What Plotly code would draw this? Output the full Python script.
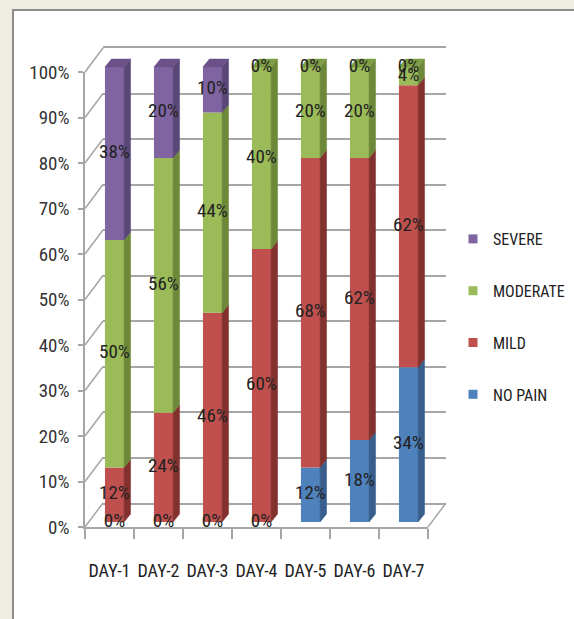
import plotly.graph_objects as go

# ---------------- data ----------------
days = ["DAY-1", "DAY-2", "DAY-3", "DAY-4", "DAY-5", "DAY-6", "DAY-7"]
no_pain = [0, 0, 0, 0, 12, 18, 34]
mild = [12, 24, 46, 60, 68, 62, 62]
moderate = [50, 56, 44, 40, 20, 20, 4]
severe = [38, 20, 10, 0, 0, 0, 0]
series_names = ["NO PAIN", "MILD", "MODERATE", "SEVERE"]
y_ticks = [i / 10 for i in range(11)]

# ---------------- styles ----------------
W, H = 574, 619
FONT = "Roboto Condensed, Noto Sans Condensed, Liberation Sans Narrow, DejaVu Sans Condensed, sans-serif"
front_col = {"NO PAIN": "#4F81BD", "MILD": "#C0504D", "MODERATE": "#9BBB59", "SEVERE": "#8064A2"}
side_col = {"NO PAIN": "#375E8C", "MILD": "#82312F", "MODERATE": "#6C8838", "SEVERE": "#5B4777"}
top_col = {"NO PAIN": "#4573A8", "MILD": "#A84442", "MODERATE": "#7E9D45", "SEVERE": "#6A5289"}
GRID = "#A6A6A6"
TXT = "#222222"


def px(x):
    return x / W


def py(y):
    return 1 - y / H


# geometry (pixels)
front = dict(x0=85, x1=428, y0=527, y1=72)      # front axis plane
back = dict(x0=103, x1=446, y0=503, y1=48)      # back wall
bar_y0, bar_unit = 522, 455                      # bar plane: 0 at 522, 1.0 -> 455 px
bar_c0, bar_c6 = 114.5, 408.5                    # centers of first / last bar
step = (bar_c6 - bar_c0) / 6
bx0, bx1 = bar_c0 - step / 2, bar_c6 + step / 2
yr_top = 1.03
bar_top_px = bar_y0 - yr_top * bar_unit
BW = 0.39                 # bar width (category units)
DX = 6.5 / step           # depth offsets in data units
DY = 8 / bar_unit

data = {"NO PAIN": no_pain, "MILD": mild, "MODERATE": moderate, "SEVERE": severe}

fig = go.Figure()

# ---- back wall subplot (x, y) : grid only
fig.add_trace(go.Scatter(x=[0], y=[None], xaxis="x", yaxis="y", showlegend=False, hoverinfo="skip"))
# ---- front axis subplot (x2, y2): tick labels
fig.add_trace(go.Scatter(x=days, y=[None] * 7, xaxis="x2", yaxis="y2", showlegend=False, hoverinfo="skip"))

# ---- bars (x3, y3)
xs = list(range(len(days)))
cum = [0.0] * len(days)
bases = {}
for name in series_names:
    vals = [v / 100 for v in data[name]]
    bases[name] = cum[:]
    fig.add_trace(go.Bar(
        x=xs, y=vals, base=cum[:], width=BW, name=name,
        marker=dict(color=front_col[name], line=dict(width=0)),
        xaxis="x3", yaxis="y3", showlegend=False, hoverinfo="skip"))
    cum = [c + v for c, v in zip(cum, vals)]

# side faces per series
for name in series_names:
    sx, sy = [], []
    for i in xs:
        v = data[name][i] / 100
        if v <= 0:
            continue
        b = bases[name][i]
        r = i + BW / 2
        sx += [r, r, r + DX, r + DX, r, None]
        sy += [b, b + v, b + v + DY, b + DY, b, None]
    if sx:
        fig.add_trace(go.Scatter(x=sx, y=sy, mode="lines", fill="toself",
                                 fillcolor=side_col[name], line=dict(width=0.5, color=side_col[name]),
                                 xaxis="x3", yaxis="y3", showlegend=False, hoverinfo="skip"))

# top faces (colour of topmost non-zero segment)
for name in series_names:
    tx, ty = [], []
    for i in xs:
        top_name = [n for n in series_names if data[n][i] > 0][-1]
        if top_name != name:
            continue
        t = cum[i]
        l, r = i - BW / 2, i + BW / 2
        tx += [l, r, r + DX, l + DX, l, None]
        ty += [t, t, t + DY, t + DY, t, None]
    if tx:
        fig.add_trace(go.Scatter(x=tx, y=ty, mode="lines", fill="toself",
                                 fillcolor=top_col[name], line=dict(width=0.5, color=top_col[name]),
                                 xaxis="x3", yaxis="y3", showlegend=False, hoverinfo="skip"))

# data labels
lx, ly, lt = [], [], []
for name in series_names:
    for i in xs:
        v = data[name][i]
        lx.append(i)
        ly.append(bases[name][i] + v / 200)
        lt.append(f"{v}%")
fig.add_trace(go.Scatter(x=lx, y=ly, text=lt, mode="text", textposition="middle center",
                         textfont=dict(family=FONT, size=19, color=TXT), cliponaxis=False,
                         xaxis="x3", yaxis="y3", showlegend=False, hoverinfo="skip"))

# legend entries
for name in ["SEVERE", "MODERATE", "MILD", "NO PAIN"]:
    fig.add_trace(go.Scatter(x=[None], y=[None], mode="markers", name=name, legendgroup=name,
                             marker=dict(symbol="square", size=9, color=front_col[name]),
                             xaxis="x3", yaxis="y3", hoverinfo="skip"))

# ---------------- shapes: frame, left wall, floor ----------------
shapes = [dict(type="rect", xref="paper", yref="paper", x0=px(13), x1=1.05, y0=-0.05, y1=py(10),
               fillcolor="white", line=dict(color="#8C8C8C", width=2), layer="below")]
fu = (front["y0"] - front["y1"])
for t in y_ticks:
    yf = front["y0"] - t * fu
    shapes.append(dict(type="line", xref="paper", yref="paper",
                       x0=px(front["x0"]), y0=py(yf),
                       x1=px(back["x0"]), y1=py(yf - (front["y0"] - back["y0"])),
                       line=dict(color=GRID, width=1.5), layer="below"))
shapes.append(dict(type="line", xref="paper", yref="paper",
                   x0=px(front["x1"]), y0=py(front["y0"]), x1=px(back["x1"]), y1=py(back["y0"]),
                   line=dict(color=GRID, width=1.5), layer="below"))

axis_common = dict(showgrid=False, zeroline=False, fixedrange=True, automargin=False)

fig.update_layout(
    width=W, height=H, margin=dict(l=0, r=0, t=0, b=0, pad=0, autoexpand=False),
    paper_bgcolor="#EFECE1", plot_bgcolor="rgba(0,0,0,0)",
    barmode="overlay",
    shapes=shapes,
    font=dict(family=FONT, color=TXT),
    # back wall
    xaxis=dict(domain=[px(back["x0"]), px(back["x1"])], range=[0, 1], showticklabels=False,
               showline=True, mirror=True, linecolor=GRID, linewidth=1.5, ticks="",
               showgrid=False, zeroline=False),
    yaxis=dict(domain=[py(back["y0"]), py(back["y1"])], range=[0, 1], tickvals=y_ticks,
               showticklabels=False, showgrid=True, gridcolor=GRID, gridwidth=1.5,
               zeroline=False, showline=False, ticks=""),
    # front axis
    xaxis2=dict(domain=[px(front["x0"]), px(front["x1"])], type="category",
                categoryorder="array", categoryarray=days, range=[-0.5, 6.5],
                showline=True, linecolor=GRID, linewidth=1.5, ticks="outside", tickson="boundaries",
                ticklen=10, tickcolor=GRID, tickwidth=1.5, ticklabelstandoff=27, tickangle=0,
                tickfont=dict(family=FONT, size=18, color=TXT), anchor="y2", **axis_common),
    yaxis2=dict(domain=[py(front["y0"]), py(front["y1"])], range=[0, 1], tickvals=y_ticks,
                tickformat=".0%", showline=True, linecolor=GRID, linewidth=1.5,
                ticks="outside", ticklen=5, tickcolor=GRID, tickwidth=1.5, ticklabelstandoff=5,
                tickfont=dict(family=FONT, size=19, color="#333333"), anchor="x2", **axis_common),
    # bars
    xaxis3=dict(domain=[px(bx0), px(bx1)], range=[-0.5, 6.5], visible=False, anchor="y3", **axis_common),
    yaxis3=dict(domain=[py(bar_y0), py(bar_top_px)], range=[0, yr_top], visible=False, anchor="x3",
                **axis_common),
    legend=dict(x=px(453), y=py(222), xanchor="left", yanchor="top", bgcolor="rgba(0,0,0,0)",
                font=dict(family=FONT, size=16, color=TXT), tracegroupgap=28,
                traceorder="grouped", itemwidth=30),
)

fig.write_html("out.html")
